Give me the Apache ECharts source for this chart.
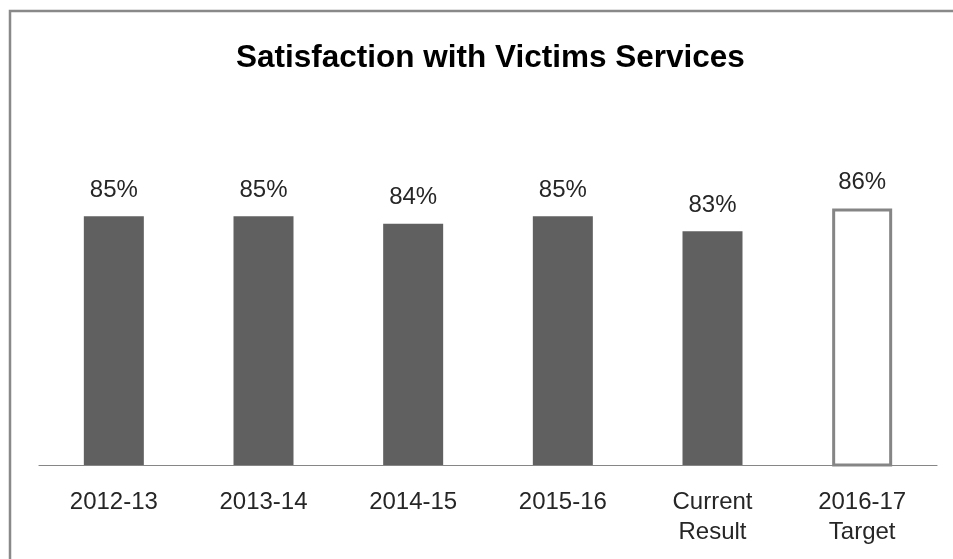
<!DOCTYPE html>
<html>
<head>
<meta charset="utf-8">
<title>Satisfaction with Victims Services</title>
<script src="https://cdn.jsdelivr.net/npm/echarts@6/dist/echarts.min.js"></script>
<style>
  html, body { margin: 0; padding: 0; background: #ffffff; }
  #chart { width: 953px; height: 559px; }
</style>
</head>
<body>
<div id="chart"></div>
<script>
// Satisfaction results by year, plus the current result and the 2016-17 target
const categories = ['2012-13', '2013-14', '2014-15', '2015-16', 'Current\nResult', '2016-17\nTarget'];
const satisfaction = [85, 85, 84, 85, 83, 86];
const targetIndex = 5;

const FONT = '"Liberation Sans", Arial, sans-serif';

const chart = echarts.init(document.getElementById('chart'), null, { renderer: 'canvas' });

const barData = satisfaction.map((v, i) => {
  if (i === targetIndex) {
    return {
      value: v,
      itemStyle: { color: '#ffffff', borderColor: '#858585', borderWidth: 3 }
    };
  }
  return { value: v };
});

chart.setOption({
  animation: false,
  backgroundColor: '#ffffff',
  title: {
    text: 'Satisfaction with Victims Services',
    left: 231,
    top: 36,
    textStyle: { fontFamily: FONT, fontWeight: 'bold', fontSize: 31.5, color: '#000000', lineHeight: 34 }
  },
  graphic: [{
    type: 'rect',
    shape: { x: 10, y: 11, width: 1200, height: 1000 },
    style: { fill: 'none', stroke: '#898989', lineWidth: 2.5 },
    silent: true
  }],
  grid: { left: 39, right: 16, top: 103, bottom: 94 },
  xAxis: {
    type: 'category',
    data: categories,
    axisLine: { show: true, lineStyle: { color: '#868686', width: 1.2 } },
    axisTick: { show: false },
    axisLabel: {
      fontFamily: FONT,
      fontSize: 24,
      lineHeight: 30,
      color: '#262626',
      margin: 22,
      interval: 0
    }
  },
  yAxis: {
    type: 'value',
    min: 52,
    max: 100,
    show: false,
    splitLine: { show: false }
  },
  series: [{
    type: 'bar',
    data: barData,
    barWidth: 60,
    itemStyle: { color: '#606060' },
    label: {
      show: true,
      position: 'top',
      distance: 14,
      formatter: p => p.value + '%',
      fontFamily: FONT,
      fontSize: 24,
      lineHeight: 24,
      color: '#262626'
    }
  }]
});
</script>
</body>
</html>
